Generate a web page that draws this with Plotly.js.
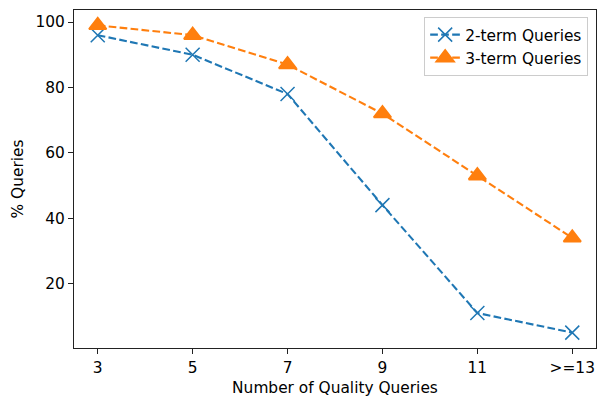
<!DOCTYPE html>
<html><head><meta charset="utf-8">
<script src="https://cdn.plot.ly/plotly-3.0.1.min.js"></script>
<style>html,body{margin:0;padding:0;background:#fff}#chart{width:598px;height:398px}</style>
</head><body><div id="chart"></div>
<script>
const categories = ["3", "5", "7", "9", "11", ">=13"];
const twoTerm = [96, 90, 78, 44, 11, 5];
const threeTerm = [99, 96, 87, 72, 53, 34];
const seriesNames = ["2-term Queries", "3-term Queries"];

const font = {family: "DejaVu Sans", size: 15.4, color: "#000"};
const dash = "7.7px,3.3px";

const traces = [
  {x: categories, y: twoTerm, name: seriesNames[0], type: "scatter", mode: "lines+markers",
   line: {color: "#1f77b4", width: 2.1, dash: dash},
   marker: {symbol: "x-thin-open", size: 14, color: "#1f77b4", line: {color: "#1f77b4", width: 1.5}}},
  {x: categories, y: threeTerm, name: seriesNames[1], type: "scatter", mode: "lines+markers",
   line: {color: "#ff7f0e", width: 2.1, dash: dash},
   marker: {symbol: "triangle-up", size: 15, color: "#ff7f0e", line: {color: "#ff7f0e", width: 2}}}
];

const layout = {
  width: 598, height: 398,
  margin: {l: 73.7, r: 2.3, t: 10, b: 50},
  paper_bgcolor: "#fff", plot_bgcolor: "#fff",
  font: font,
  showlegend: true,
  legend: {x: 0.985, y: 0.979, xanchor: "right", yanchor: "top",
    bgcolor: "rgba(255,255,255,0.8)", bordercolor: "#cccccc", borderwidth: 1,
    font: font, itemwidth: 30, tracegroupgap: 0},
  xaxis: {type: "category", range: [-0.25, 5.25], showgrid: false, zeroline: false,
    showline: true, mirror: true, linecolor: "#222", linewidth: 1.1,
    ticks: "outside", ticklen: 5, tickwidth: 1.1, tickcolor: "#222",
    tickfont: font, title: {text: "Number of Quality Queries", font: font, standoff: 6}},
  yaxis: {range: [0.3, 103.7], tickvals: [20, 40, 60, 80, 100], showgrid: false, zeroline: false,
    showline: true, mirror: true, linecolor: "#222", linewidth: 1.1,
    ticks: "outside", ticklen: 5, tickwidth: 1.1, tickcolor: "#222",
    tickfont: font, title: {text: "% Queries", font: font, standoff: 8}}
};
Plotly.newPlot("chart", traces, layout, {displayModeBar: false, staticPlot: true});
</script></body></html>
